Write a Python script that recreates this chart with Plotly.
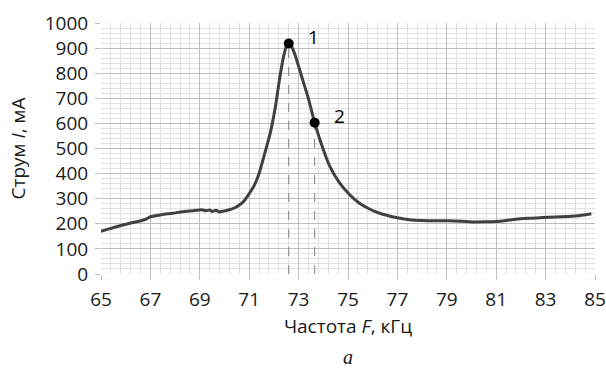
import plotly.graph_objects as go

# Frequency (kHz) and current (mA)
freq = [65.0, 65.4, 65.85, 66.25, 66.65, 66.85, 67.0, 67.45, 67.9, 68.3, 68.7, 69.08,
        69.25, 69.4, 69.5, 69.65, 69.8, 69.9, 70.05, 70.2, 70.4, 70.6, 70.8, 71.0,
        71.2, 71.4, 71.6, 71.85, 72.05, 72.25, 72.4, 72.5, 72.6, 72.72, 72.85, 73.1, 73.4,
        73.65, 73.95, 74.25, 74.65, 75.05, 75.45, 75.85, 76.2, 76.6, 77.0, 77.5,
        78.0, 78.5, 79.1, 79.6, 80.1, 80.6, 81.0, 81.4, 81.8, 82.4, 82.9, 83.4,
        83.9, 84.4, 84.85]
current = [170, 182, 194, 204, 213, 220, 228, 236, 242, 248, 252, 256,
           252, 255, 249, 254, 247, 250, 252, 256, 263, 275, 292, 320,
           352, 400, 470, 560, 660, 790, 870, 905, 918, 905, 875, 795, 698,
           603, 510, 432, 364, 318, 283, 260, 245, 233, 224, 216,
           213, 212, 212, 210, 207, 208, 209, 213, 218, 222, 225, 227,
           229, 233, 240]

# Marked points
pt_x = [72.6, 73.65]
pt_y = [918, 603]
pt_labels = ["1", "2"]

x_ticks = [65, 67, 69, 71, 73, 75, 77, 79, 81, 83, 85]
y_ticks = [0, 100, 200, 300, 400, 500, 600, 700, 800, 900, 1000]

fig = go.Figure()

# dashed drop lines
for px, py in zip(pt_x, pt_y):
    fig.add_trace(go.Scatter(x=[px, px], y=[0, py], mode="lines",
                             line=dict(color="#808080", width=1, dash="dash"),
                             hoverinfo="skip", showlegend=False))

fig.add_trace(go.Scatter(x=freq, y=current, mode="lines",
                         line=dict(color="#404040", width=3, shape="spline", smoothing=0.5),
                         showlegend=False))

fig.add_trace(go.Scatter(x=pt_x, y=pt_y, mode="markers",
                         marker=dict(color="black", size=10),
                         showlegend=False))

for px, py, lab in zip(pt_x, pt_y, pt_labels):
    fig.add_annotation(x=px, y=py, text=lab, showarrow=False,
                       xshift=17, yshift=7, xanchor="left",
                       font=dict(family="Open Sans", size=19, color="black"))

font_main = dict(family="Open Sans", size=19, color="#1a1a1a")

fig.update_xaxes(range=[65, 85], tickvals=x_ticks, ticktext=[str(v) for v in x_ticks],
                 showgrid=True, gridcolor="#bdbdbd", gridwidth=1,
                 minor=dict(dtick=0.4, tick0=65, showgrid=True, gridcolor="#e2e2e2", gridwidth=1),
                 ticks="outside", ticklen=5, tickcolor="#bdbdbd", ticklabelstandoff=3,
                 zeroline=False, showline=False, tickfont=font_main, automargin=False,
                 title=dict(text="Частота <i>F</i>, кГц", font=font_main, standoff=8))
fig.update_yaxes(range=[0, 1000], tickvals=y_ticks, ticktext=[str(v) for v in y_ticks],
                 showgrid=True, gridcolor="#bdbdbd", gridwidth=1,
                 minor=dict(dtick=20, tick0=0, showgrid=True, gridcolor="#e2e2e2", gridwidth=1),
                 ticks="outside", ticklen=5, tickcolor="#bdbdbd", ticklabelstandoff=3,
                 zeroline=False, showline=False, tickfont=font_main, automargin=False,
                 title=dict(text="Струм <i>I</i>, мА", font=font_main, standoff=14))

fig.add_annotation(x=0.5, y=-0.33, xref="paper", yref="paper", text="<i>a</i>",
                   showarrow=False, yanchor="middle",
                   font=dict(family="Liberation Serif", size=20, color="#1a1a1a"))

fig.update_layout(width=606, height=369, margin=dict(l=101, r=11, t=23, b=95),
                  paper_bgcolor="white", plot_bgcolor="white")

fig.write_html("out.html", config={"displayModeBar": False},
               post_script="document.body.style.margin='0';document.body.style.overflow='hidden';")
